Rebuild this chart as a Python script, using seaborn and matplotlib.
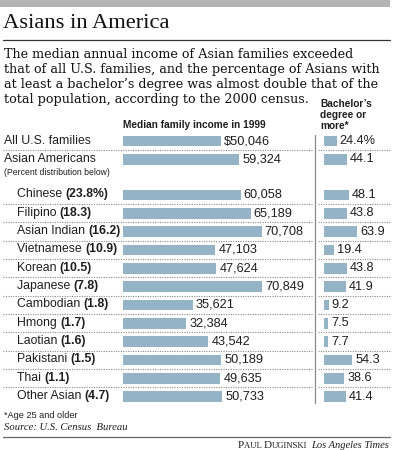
import matplotlib
matplotlib.use("Agg")
import matplotlib.pyplot as plt
import seaborn as sns
import pandas as pd
from matplotlib.lines import Line2D
from matplotlib.patches import Rectangle

# ---------------- data ----------------
groups = ["All U.S. families", "Asian Americans", "Chinese", "Filipino", "Asian Indian",
          "Vietnamese", "Korean", "Japanese", "Cambodian", "Hmong", "Laotian",
          "Pakistani", "Thai", "Other Asian"]
shares = [None, None, "(23.8%)", "(18.3)", "(16.2)", "(10.9)", "(10.5)", "(7.8)",
          "(1.8)", "(1.7)", "(1.6)", "(1.5)", "(1.1)", "(4.7)"]
income = [50046, 59324, 60058, 65189, 70708, 47103, 47624, 70849, 35621, 32384,
          43542, 50189, 49635, 50733]
bachelor = [24.4, 44.1, 48.1, 43.8, 63.9, 19.4, 43.8, 41.9, 9.2, 7.5, 7.7, 54.3, 38.6, 41.4]

title = "Asians in America"
subtitle = ["The median annual income of Asian families exceeded",
            "that of all U.S. families, and the percentage of Asians with",
            "at least a bachelor\u2019s degree was almost double that of the",
            "total population, according to the 2000 census."]
income_header = "Median family income in 1999"
bach_header = ["Bachelor\u2019s", "degree or", "more*"]
footnote = "*Age 25 and older"
source = "Source: U.S. Census  Bureau"

# ---------------- layout ----------------
W, H = 394, 450
DPI = 100
BAR = "#94b3c7"
TXT = "#1e1e1e"

# row positions (in row units); a gap after "Asian Americans"
pos = [0.0, 1.0] + [2.94 + i for i in range(len(groups) - 2)]
df = pd.DataFrame({"group": groups, "income": income, "bachelor": bachelor, "pos": pos})

ROW_PX = 18.33
Y0_PX = 141.0          # pixel center of row 0

sns.set_theme(style="white")
plt.rcParams["font.family"] = ["Liberation Sans", "DejaVu Sans"]

fig = plt.figure(figsize=(W / DPI, H / DPI), dpi=DPI)
fig.patch.set_facecolor("white")


def fx(x):
    return x / W


def fy(y):
    return 1 - y / H


top_px, bot_px = 131.0, 406.0
ylim_top = (top_px - Y0_PX) / ROW_PX
ylim_bot = (bot_px - Y0_PX) / ROW_PX


def make_ax(x0, x1):
    ax = fig.add_axes([fx(x0), fy(bot_px), fx(x1 - x0), (bot_px - top_px) / H])
    ax.set_axis_off()
    return ax


# income axis
PX_PER_USD = 0.00196
ax1 = make_ax(123, 312)
sns.barplot(data=df, x="income", y="pos", orient="h", native_scale=True,
            color=BAR, saturation=1, width=0.58, ax=ax1, linewidth=0)
ax1.set_xlim(0, (312 - 123) / PX_PER_USD)
ax1.set_ylim(ylim_bot, ylim_top)
ax1.set_axis_off()
for i, (v, p) in enumerate(zip(income, pos)):
    lab = f"${v:,}" if i == 0 else f"{v:,}"
    ax1.annotate(lab, xy=(v, p), xytext=(3, 0), textcoords="offset pixels",
                 ha="left", va="center", fontsize=9.2, color=TXT, annotation_clip=False)

# bachelor axis
PX_PER_PCT = 0.52
ax2 = make_ax(324, 392)
sns.barplot(data=df, x="bachelor", y="pos", orient="h", native_scale=True,
            color=BAR, saturation=1, width=0.58, ax=ax2, linewidth=0)
ax2.set_xlim(0, (392 - 324) / PX_PER_PCT)
ax2.set_ylim(ylim_bot, ylim_top)
ax2.set_axis_off()
for i, (v, p) in enumerate(zip(bachelor, pos)):
    lab = f"{v}%" if i == 0 else f"{v}"
    ax2.annotate(lab, xy=(v, p), xytext=(3, 0), textcoords="offset pixels",
                 ha="left", va="center", fontsize=9.2, color=TXT, annotation_clip=False)

# ---------------- decorations ----------------
fig.add_artist(Rectangle((0, fy(7)), fx(390), 7 / H, transform=fig.transFigure,
                         facecolor="#b4b4b4", edgecolor="none"))
fig.add_artist(Line2D([fx(3), fx(390)], [fy(39.5), fy(39.5)], color="#333333", lw=0.9))
fig.add_artist(Line2D([fx(3), fx(390)], [fy(437), fy(437)], color="#666666", lw=0.9))
fig.add_artist(Line2D([fx(315), fx(315)], [fy(135), fy(403)], color="#888888", lw=0.9))

seps = [(pos[0] + pos[1]) / 2] + [(pos[i] + pos[i + 1]) / 2 for i in range(2, len(pos) - 1)]
for s in seps:
    ypx = Y0_PX + s * ROW_PX
    for a, b in [(3, 312), (318, 390)]:
        fig.add_artist(Line2D([fx(a), fx(b)], [fy(ypx), fy(ypx)], color="#888888",
                              lw=0.8, linestyle=(0, (1, 1.2))))

# title and subtitle
fig.text(fx(3), fy(24), title, family="Liberation Serif", fontsize=16.2,
         color="#111111", va="center", ha="left")
for k, line in enumerate(subtitle):
    fig.text(fx(4), fy(55 + k * 14.7), line, family="DejaVu Serif", fontsize=9.15,
             color="#111111", va="center", ha="left")

# column headers
fig.text(fx(123), fy(125), income_header, fontsize=7.3, weight="bold",
         color=TXT, va="center", ha="left")
for k, line in enumerate(bach_header):
    fig.text(fx(320), fy(104 + k * 11.2), line, fontsize=7.3, weight="bold",
             color=TXT, va="center", ha="left")

# row labels
fig.canvas.draw()
r = fig.canvas.get_renderer()
for i, (g, sh, p) in enumerate(zip(groups, shares, pos)):
    ypx = Y0_PX + p * ROW_PX - 0.5
    if sh is None:
        fig.text(fx(4), fy(ypx), g, fontsize=8.8, color=TXT, va="center", ha="left")
    else:
        t = fig.text(fx(17), fy(ypx), g + " ", fontsize=8.8, color=TXT,
                     va="center", ha="left")
        bb = t.get_window_extent(renderer=r)
        fig.text(bb.x1 / W, fy(ypx), sh, fontsize=8.8, weight="bold", color=TXT,
                 va="center", ha="left")

fig.text(fx(4), fy(173), "(Percent distribution below)", fontsize=6.2,
         color=TXT, va="center", ha="left")

# footer
fig.text(fx(4), fy(415), footnote, fontsize=6.6, color=TXT, va="center", ha="left")
fig.text(fx(4), fy(428), source, family="Liberation Serif", style="italic",
         fontsize=7.7, color=TXT, va="center", ha="left")
t2 = fig.text(fx(389), fy(446), "Los Angeles Times", family="Liberation Serif",
              style="italic", fontsize=7.6, color=TXT, va="center", ha="right")
bb = t2.get_window_extent(renderer=r)
byline_parts = [("P", 8.0), ("AUL ", 6.2), ("D", 8.0), ("UGINSKI", 6.2)]
x_end = bb.x0 - 4
for txt, fs in reversed(byline_parts):
    tt = fig.text(x_end / W, fy(446), txt, family="Liberation Serif", fontsize=fs,
                  color=TXT, va="center", ha="right")
    b = tt.get_window_extent(renderer=r)
    x_end = b.x0

fig.savefig("out.png", dpi=DPI, facecolor="white")
